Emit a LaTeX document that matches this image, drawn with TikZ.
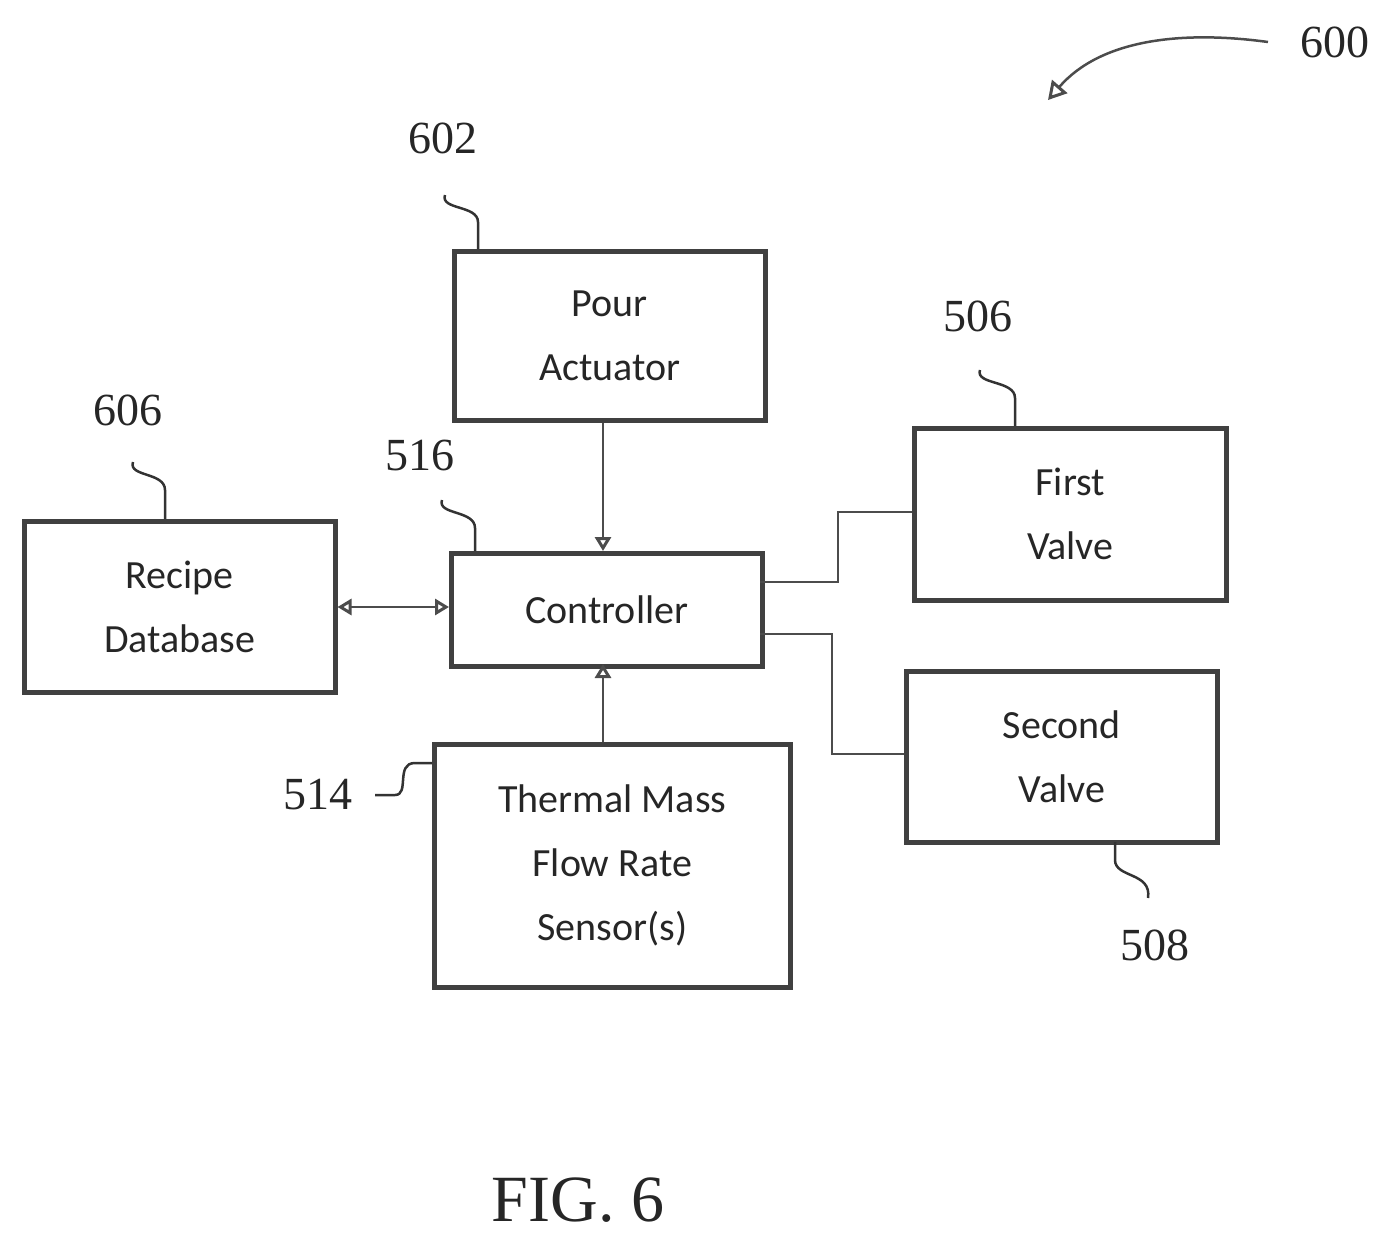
\documentclass[tikz,border=0pt]{standalone}
\usepackage{fontspec}
\setmainfont{Liberation Serif}
\newfontfamily\boxfont{Carlito}
\usetikzlibrary{arrows.meta}
\begin{document}
\begin{tikzpicture}[x=1pt,y=-1pt,
  box/.style={draw=black!75,line width=4.5pt,align=center,font=\boxfont\fontsize{40}{64}\selectfont,text=black!85,inner sep=0pt,anchor=north west},
  ref/.style={font=\fontsize{46}{50}\selectfont,text=black!85},
  conn/.style={draw=black!70,line width=1.5pt},
  arr/.style={conn,-{Triangle[open,length=14pt,width=16pt,line width=3pt]}},
  sq/.style={draw=black!80,line width=2.5pt}]
\useasboundingbox (0,0) rectangle (1397,1248);
\node[box,minimum width=311pt,minimum height=169pt] (pour) at (452,249) {Pour\\Actuator};
\node[box,minimum width=312pt,minimum height=172pt] (v1) at (912,426) {First\\Valve};
\node[box,minimum width=311pt,minimum height=171pt] (db) at (22,519) {Recipe\\Database};
\node[box,minimum width=311pt,minimum height=113pt] (ctl) at (449,551) {Controller};
\node[box,minimum width=311pt,minimum height=171pt] (v2) at (904,669) {Second\\Valve};
\node[box,minimum width=356pt,minimum height=243pt] (tm) at (432,742) {Thermal Mass\\Flow Rate\\Sensor(s)};
\draw[arr] (pour.south -| 603,0) -- (603,551);
\draw[arr] (tm.north -| 603,0) -- (603,664);
\draw[arr,{Triangle[open,length=14pt,width=16pt,line width=3pt]}-{Triangle[open,length=14pt,width=16pt,line width=3pt]}] (db.east |- 0,607) -- (ctl.west |- 0,607);
\coordinate (c1) at (760,582); \coordinate (c2) at (760,634);
\draw[conn] (c1) -- (838,582) -- (838,512) -- (v1.west |- 0,512);
\draw[conn] (c2) -- (832,634) -- (832,754) -- (v2.west |- 0,754);
\node[ref] (n600) at (1335,42) {600};
\node[ref] (n602) at (443,138) {602};
\node[ref] (n506) at (978,316) {506};
\node[ref] (n606) at (128,410) {606};
\node[ref] (n516) at (420,455) {516};
\node[ref] (n514) at (318,795) {514};
\node[ref] (n508) at (1155,945) {508};
\node[font=\fontsize{66}{70}\selectfont,text=black!85] (fig) at (578,1200) {FIG. 6};
\coordinate (a600) at (1048,100);
\draw[conn,line width=2.5pt,-{Triangle[open,length=18pt,width=20pt,line width=3pt]}] (1268,42) .. controls (1180,30) and (1100,40) .. (a600);
\draw[sq] (445,195) .. controls (440,210) and (478,205) .. (478,222) -- (478,249);
\draw[sq] (980,370) .. controls (975,385) and (1015,380) .. (1015,398) -- (1015,426);
\draw[sq] (133,462) .. controls (128,477) and (165,472) .. (165,490) -- (165,519);
\draw[sq] (442,500) .. controls (437,515) and (475,510) .. (475,528) -- (475,551);
\draw[sq] (375,795) -- (395,795) .. controls (410,795) and (395,763) .. (415,763) -- (432,763);
\draw[sq] (1115,842) -- (1115,860) .. controls (1115,878) and (1152,872) .. (1148,898);
\end{tikzpicture}
\end{document}
